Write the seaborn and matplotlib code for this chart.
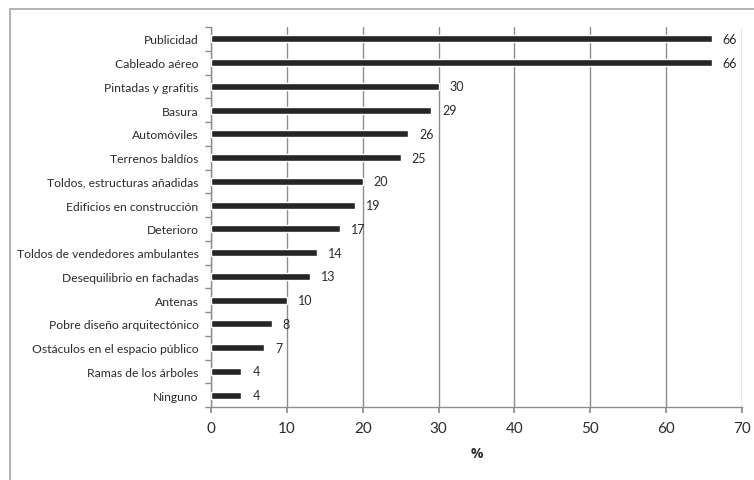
import matplotlib
matplotlib.use("Agg")
import matplotlib.pyplot as plt
import seaborn as sns
import pandas as pd
from matplotlib.patches import Rectangle

categories = ["Publicidad", "Cableado aéreo", "Pintadas y grafitis", "Basura",
              "Automóviles", "Terrenos baldíos", "Toldos, estructuras añadidas",
              "Edificios en construcción", "Deterioro", "Toldos de vendedores ambulantes",
              "Desequilibrio en fachadas", "Antenas", "Pobre diseño arquitectónico",
              "Ostáculos en el espacio público", "Ramas de los árboles", "Ninguno"]
values = [66, 66, 30, 29, 26, 25, 20, 19, 17, 14, 13, 10, 8, 7, 4, 4]
xticks = [0, 10, 20, 30, 40, 50, 60, 70]

sns.set_theme(style="white")
plt.rcParams['font.family'] = ['Lato', 'DejaVu Sans']
txt = "#2b2b2b"

df = pd.DataFrame({"cat": categories, "val": values})
fig = plt.figure(figsize=(7.54, 4.81), dpi=100)
ax = fig.add_axes([211/754, 1 - 408/481, (742 - 211)/754, (408 - 28)/481])

sns.barplot(data=df, x="val", y="cat", color="#262626", width=0.3,
            saturation=1, ax=ax, zorder=3)

ax.set_xlim(0, 70)
ax.set_xticks(xticks)
ax.set_xticklabels([str(t) for t in xticks], fontsize=11, color=txt)
ax.xaxis.grid(True, color="#8c8c8c", linewidth=1, zorder=0)
ax.yaxis.grid(False)
ax.set_axisbelow(True)
ax.tick_params(axis="y", labelsize=8.7, colors=txt, length=0, pad=9)
ax.tick_params(axis="x", length=4, color="#8c8c8c", direction="out", pad=6, bottom=True)
ax.set_ylabel("")
ax.set_xlabel("%", fontsize=10, fontweight="bold", color=txt, labelpad=8,
              family=["Open Sans", "DejaVu Sans"])

# Excel-style category separator ticks on left axis
n = len(categories)
ax.set_yticks([i - 0.5 for i in range(n + 1)], minor=True)
ax.tick_params(axis="y", which="minor", length=4, color="#8c8c8c", left=True)

for s in ["top", "right"]:
    ax.spines[s].set_visible(False)
for s in ["left", "bottom"]:
    ax.spines[s].set_color("#8c8c8c")
    ax.spines[s].set_linewidth(1)

for i, v in enumerate(values):
    ax.annotate(str(v), xy=(v, i), xytext=(8, 0), textcoords="offset points",
                va="center", ha="left", fontsize=9, color=txt)

fig.patches.append(Rectangle((10/754, -0.1), 1.2, 1 - 10/481 + 0.1,
                             transform=fig.transFigure, fill=False,
                             edgecolor="#a6a6a6", linewidth=1.2))

fig.savefig("out.png", dpi=100)
